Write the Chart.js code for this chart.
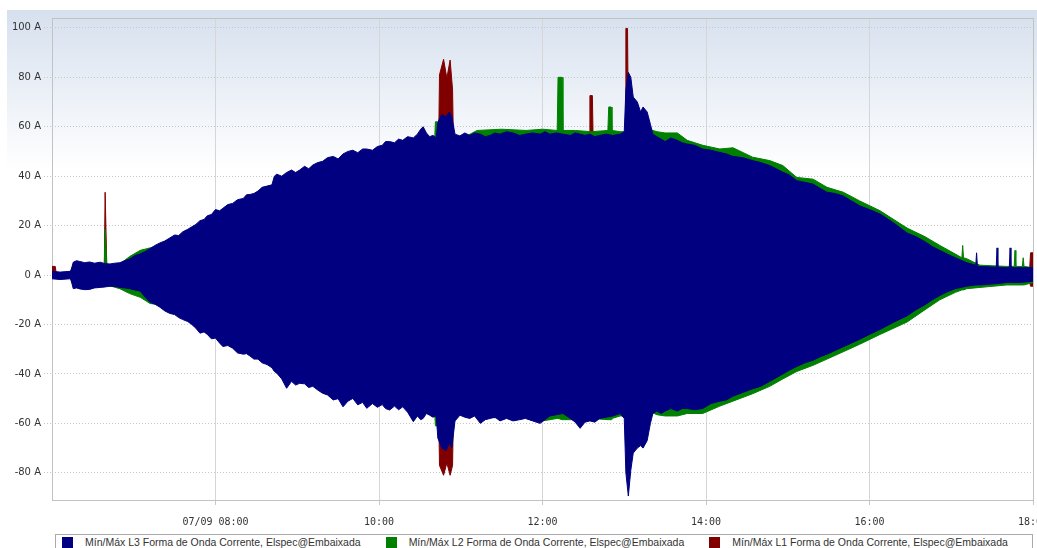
<!DOCTYPE html>
<html>
<head>
<meta charset="utf-8">
<title>Forma de Onda Corrente</title>
<script src="https://cdn.jsdelivr.net/npm/chart.js@4.4.0/dist/chart.umd.min.js"></script>
<style>
  html, body { margin: 0; padding: 0; background: #fff; }
  #wrap { position: relative; width: 1037px; height: 548px; overflow: hidden; }
  #legend {
    position: absolute; left: 55px; top: 534px; width: 978px; height: 30px;
    box-sizing: border-box; border: 1px solid #a9a9a9; background: #fff;
    display: flex; gap: 25px; padding: 1px 0 0 6px;
    font: 10.5px "Liberation Sans", Arial, sans-serif; color: #333;
  }
  #legend .item { display: flex; align-items: center; height: 12px; white-space: nowrap; }
  #legend .swatch { width: 11px; height: 11px; margin-right: 12px; }
</style>
</head>
<body>
<div id="wrap">
  <canvas id="chart" width="1037" height="548"></canvas>
  <div id="legend"></div>
</div>
<script>
// time in hours of 07/09, current in A
const xTicks = [8, 10, 12, 14, 16, 18];
const xTickLabels = ['07/09 08:00', '10:00', '12:00', '14:00', '16:00', '18:00'];
const yTicks = [-80, -60, -40, -20, 0, 20, 40, 60, 80, 100];

const seriesLabels = [
  'Mín/Máx L3 Forma de Onda Corrente, Elspec@Embaixada',
  'Mín/Máx L2 Forma de Onda Corrente, Elspec@Embaixada',
  'Mín/Máx L1 Forma de Onda Corrente, Elspec@Embaixada'
];
const seriesColors = ['#000080', '#008000', '#800000'];

// L3
const l3Time = [
  6.00, 6.10, 6.22, 6.23, 6.26, 6.30, 6.34, 6.40, 6.46, 6.52,
  6.59, 6.65, 6.71, 6.77, 6.83, 6.89, 6.95, 7.01, 7.08, 7.14,
  7.20, 7.26, 7.32, 7.38, 7.44, 7.50, 7.55, 7.60, 7.66, 7.71,
  7.76, 7.81, 7.86, 7.90, 7.95, 8.00, 8.05, 8.09, 8.15, 8.21,
  8.27, 8.34, 8.38, 8.42, 8.47, 8.52, 8.57, 8.63, 8.69, 8.72,
  8.75, 8.81, 8.87, 8.93, 8.98, 9.03, 9.09, 9.14, 9.19, 9.25,
  9.31, 9.37, 9.44, 9.50, 9.56, 9.62, 9.68, 9.74, 9.80, 9.85,
  9.92, 9.98, 10.04, 10.08, 10.13, 10.19, 10.24, 10.29, 10.35, 10.42,
  10.47, 10.51, 10.54, 10.58, 10.62, 10.66, 10.70, 10.72, 10.77, 10.82,
  10.86, 10.89, 10.93, 10.99, 11.05, 11.11, 11.17, 11.24, 11.30, 11.36,
  11.42, 11.48, 11.56, 11.64, 11.72, 11.79, 11.88, 11.97, 12.03, 12.09,
  12.17, 12.25, 12.34, 12.40, 12.46, 12.52, 12.58, 12.64, 12.70, 12.78,
  12.86, 12.95, 13.00, 13.02, 13.05, 13.08, 13.11, 13.16, 13.20, 13.23,
  13.28, 13.32, 13.35, 13.40, 13.45, 13.50, 13.57, 13.65, 13.71, 13.77,
  13.86, 13.96, 14.06, 14.17, 14.25, 14.33, 14.45, 14.57, 14.67, 14.78,
  14.86, 14.94, 15.02, 15.11, 15.21, 15.31, 15.40, 15.48, 15.58, 15.68,
  15.78, 15.88, 16.00, 16.13, 16.30, 16.46, 16.57, 16.68, 16.77, 16.86,
  16.95, 17.05, 17.19, 17.30, 17.31, 17.32, 17.35, 17.55, 17.56, 17.57,
  17.68, 17.71, 17.72, 17.73, 17.84, 18.00
];
const l3Max = [
  1.5, 1.2, 1.5, 1.5, 5.2, 5.8, 5.5, 5.0, 5.3, 4.8,
  5.2, 4.6, 4.5, 4.8, 5.0, 5.8, 6.5, 7.8, 8.6, 9.5,
  10.7, 12.0, 13.0, 13.8, 15.0, 16.2, 16.0, 17.5, 18.5, 19.5,
  20.5, 22.0, 22.5, 24.0, 24.5, 26.5, 26.0, 27.0, 28.5, 29.0,
  30.5, 31.0, 32.5, 32.6, 33.0, 34.0, 35.5, 36.0, 36.5, 40.0,
  40.8, 40.0, 41.5, 42.5, 41.5, 42.5, 44.0, 43.0, 44.5, 45.5,
  46.0, 47.5, 48.0, 47.0, 49.0, 50.0, 50.5, 49.5, 51.0, 51.0,
  50.5, 52.0, 52.5, 54.0, 54.0, 53.5, 55.0, 54.5, 56.0, 55.5,
  57.0, 59.0, 60.0, 57.5, 56.0, 56.5, 55.5, 62.0, 65.0, 64.0,
  66.0, 64.0, 57.0, 56.3, 57.5, 56.5, 57.5, 57.0, 56.0, 56.5,
  57.5, 57.0, 58.0, 57.5, 56.5, 57.0, 57.5, 57.0, 58.0, 57.0,
  57.5, 57.0, 56.5, 57.5, 57.0, 56.5, 57.0, 56.0, 56.5, 57.0,
  56.5, 57.0, 58.0, 75.0, 82.0, 80.0, 72.0, 70.0, 66.0, 68.0,
  66.0, 61.0, 57.0, 56.0, 55.0, 54.0, 55.5, 54.5, 53.5, 53.0,
  52.5, 51.0, 50.5, 49.6, 49.0, 48.0, 47.5, 46.3, 45.5, 44.3,
  43.0, 41.6, 40.5, 38.2, 37.5, 36.8, 35.0, 33.5, 33.0, 32.0,
  30.0, 28.0, 26.5, 24.7, 21.0, 17.0, 15.5, 13.5, 11.5, 10.0,
  8.5, 7.0, 5.0, 4.0, 9.0, 3.5, 3.5, 3.2, 11.0, 3.2,
  3.0, 3.0, 11.0, 3.0, 3.0, 3.0
];
const l3Min = [
  -1.5, -1.8, -1.5, -1.6, -5.5, -5.2, -5.6, -5.9, -5.8, -5.2,
  -5.0, -4.8, -4.5, -4.6, -5.0, -5.2, -5.5, -6.0, -6.5, -9.0,
  -11.0, -11.8, -13.0, -14.5, -15.5, -16.0, -17.2, -18.0, -18.8, -20.0,
  -21.5, -23.5, -23.0, -24.0, -25.8, -25.5, -27.5, -28.9, -28.5, -29.6,
  -31.5, -32.0, -31.8, -32.7, -34.0, -34.0, -35.5, -36.2, -37.5, -39.0,
  -39.7, -42.0, -45.8, -43.0, -44.5, -43.8, -44.0, -45.5, -45.0, -46.5,
  -47.8, -48.5, -50.5, -50.0, -53.3, -51.0, -49.9, -52.5, -51.5, -53.9,
  -52.0, -53.5, -52.4, -54.0, -54.6, -53.0, -54.5, -53.3, -55.5, -59.3,
  -57.0, -58.5, -58.0, -56.0, -56.7, -57.5, -57.0, -66.0, -70.0, -71.0,
  -68.0, -70.0, -59.0, -56.7, -57.5, -58.0, -57.0, -60.0, -58.5, -58.0,
  -57.5, -59.0, -58.0, -59.0, -58.5, -58.0, -59.0, -60.0, -58.5, -57.0,
  -56.5, -56.0, -58.0, -59.5, -62.0, -59.5, -59.0, -59.5, -58.0, -57.5,
  -57.0, -56.0, -58.0, -80.0, -89.4, -79.0, -72.0, -70.0, -69.0, -70.0,
  -67.0, -60.0, -56.0, -55.0, -56.0, -55.0, -54.0, -55.0, -54.0, -54.0,
  -54.5, -54.0, -52.0, -51.0, -50.5, -49.0, -47.5, -46.0, -45.0, -43.0,
  -41.5, -40.0, -38.5, -37.0, -35.5, -34.5, -33.0, -32.0, -30.5, -29.0,
  -27.5, -26.0, -24.0, -22.0, -19.0, -16.5, -14.0, -12.0, -10.0, -8.3,
  -6.8, -5.5, -4.5, -4.0, -4.0, -4.0, -4.0, -3.5, -3.5, -3.5,
  -3.0, -3.0, -3.0, -3.0, -3.0, -2.5
];

// L2
const l2Time = [
  6.00, 6.22, 6.26, 6.64, 6.65, 6.66, 6.67, 6.83, 6.95, 7.08,
  7.20, 7.32, 7.60, 8.00, 9.00, 10.00, 10.50, 10.68, 10.69, 10.71,
  10.73, 11.00, 11.20, 11.50, 11.80, 12.00, 12.18, 12.19, 12.24, 12.25,
  12.40, 12.60, 12.80, 12.81, 12.84, 12.85, 12.95, 13.00, 13.30, 13.40,
  13.50, 13.65, 13.77, 13.96, 14.17, 14.33, 14.57, 14.78, 14.94, 15.11,
  15.31, 15.48, 15.68, 15.88, 16.13, 16.46, 16.68, 16.86, 17.05, 17.13,
  17.14, 17.15, 17.19, 17.35, 17.68, 17.77, 17.78, 17.79, 17.87, 17.88,
  17.89, 18.00
];
const l2Max = [
  1.0, 1.0, 4.0, 4.0, 18.4, 18.4, 4.0, 4.5, 7.5, 10.0,
  11.0, 12.0, 16.0, 24.0, 40.0, 49.0, 55.0, 54.0, 62.0, 62.0,
  55.0, 55.0, 58.5, 59.0, 58.5, 59.0, 58.5, 80.0, 80.0, 58.5,
  58.5, 58.0, 58.5, 68.0, 68.0, 58.5, 58.0, 58.0, 59.0, 58.0,
  57.5, 57.5, 54.5, 52.5, 51.0, 51.5, 47.7, 46.3, 44.3, 39.5,
  38.8, 35.5, 33.5, 30.0, 26.0, 19.0, 15.5, 12.0, 8.5, 7.0,
  12.0, 7.0, 6.6, 4.0, 3.5, 3.5, 10.0, 3.5, 3.5, 7.0,
  3.5, 3.0
];
const l2Min = [
  -1.0, -1.0, -4.0, -4.0, -4.0, -4.0, -4.0, -5.5, -7.5, -9.0,
  -11.5, -12.0, -16.0, -23.0, -40.0, -50.0, -55.0, -55.0, -61.0, -61.0,
  -55.0, -55.0, -57.0, -58.0, -57.0, -59.0, -58.0, -58.0, -58.5, -58.5,
  -58.5, -58.0, -58.5, -58.5, -58.5, -58.0, -57.0, -57.0, -55.0, -56.5,
  -57.0, -57.0, -56.0, -56.0, -53.0, -51.0, -48.0, -45.0, -42.0, -39.0,
  -36.5, -34.0, -31.0, -28.0, -24.0, -19.0, -14.0, -10.0, -7.0, -6.0,
  -6.0, -6.0, -5.5, -5.0, -4.0, -4.0, -4.0, -4.0, -4.0, -4.0,
  -4.0, -3.0
];

// L1
const l1Time = [
  6.00, 6.04, 6.05, 6.22, 6.26, 6.64, 6.65, 6.66, 6.67, 7.00,
  8.00, 9.00, 10.00, 10.50, 10.73, 10.74, 10.79, 10.83, 10.87, 10.90,
  10.91, 12.57, 12.58, 12.61, 12.62, 13.01, 13.02, 13.04, 13.05, 13.50,
  14.00, 15.00, 16.00, 17.00, 17.30, 17.96, 17.97, 18.00
];
const l1Max = [
  3.5, 3.5, 1.0, 1.0, 4.0, 4.0, 33.5, 33.5, 4.0, 5.0,
  22.0, 38.0, 48.0, 53.0, 54.0, 81.0, 87.3, 79.6, 87.0, 75.0,
  54.0, 54.0, 72.6, 72.6, 54.0, 54.0, 99.8, 99.8, 60.0, 50.0,
  48.0, 38.0, 24.0, 6.0, 3.0, 3.0, 9.0, 9.0
];
const l1Min = [
  -1.0, -1.0, -1.0, -1.0, -4.0, -4.0, -4.0, -4.0, -4.0, -5.0,
  -22.0, -38.0, -48.0, -53.0, -55.0, -77.0, -81.0, -76.0, -81.0, -77.0,
  -55.0, -54.0, -54.0, -54.0, -54.0, -54.0, -54.0, -54.0, -54.0, -50.0,
  -48.0, -35.0, -22.0, -5.0, -3.0, -3.0, -4.5, -4.5
];

const toPoints = (times, values) => times.map((t, i) => ({ x: t, y: values[i] }));

const series = [
  { time: l3Time, max: l3Max, min: l3Min },
  { time: l2Time, max: l2Max, min: l2Min },
  { time: l1Time, max: l1Max, min: l1Min }
];

// first dataset is painted last, so L3 sits on top
const datasets = [];
series.forEach((s, i) => {
  datasets.push({
    label: seriesLabels[i],
    data: toPoints(s.time, s.max),
    borderColor: seriesColors[i],
    backgroundColor: seriesColors[i],
    borderWidth: 1,
    pointRadius: 0,
    fill: '+1'
  });
  datasets.push({
    label: seriesLabels[i],
    data: toPoints(s.time, s.min),
    borderColor: seriesColors[i],
    backgroundColor: seriesColors[i],
    borderWidth: 1,
    pointRadius: 0,
    fill: false,
    hideInLegend: true
  });
});

const backdrop = {
  id: 'backdrop',
  beforeDraw(chart) {
    const ctx = chart.ctx;
    ctx.save();
    ctx.fillStyle = '#fff';
    ctx.fillRect(0, 0, chart.width, chart.height);
    const g = ctx.createLinearGradient(0, 10, 0, 170);
    g.addColorStop(0, '#d6e0ee');
    g.addColorStop(1, '#ffffff');
    ctx.fillStyle = g;
    ctx.fillRect(7, 10, chart.width - 7, 160);
    ctx.restore();
  }
};

const plotFrame = {
  id: 'plotFrame',
  beforeDatasetsDraw(chart) {
    const { ctx, chartArea: a } = chart;
    ctx.save();
    ctx.strokeStyle = '#c2c2c2';
    ctx.lineWidth = 1;
    ctx.strokeRect(a.left + 0.5, a.top + 0.5, a.right - a.left, a.bottom - a.top);
    ctx.restore();
  }
};

// legend box under the axis, built from the chart's own legend items
const htmlLegend = {
  id: 'htmlLegend',
  afterUpdate(chart) {
    const box = document.getElementById('legend');
    box.innerHTML = '';
    const items = chart.options.plugins.legend.labels.generateLabels(chart)
      .filter(item => !chart.data.datasets[item.datasetIndex].hideInLegend);
    items.forEach(item => {
      const el = document.createElement('div');
      el.className = 'item';
      const swatch = document.createElement('span');
      swatch.className = 'swatch';
      swatch.style.background = item.fillStyle;
      const text = document.createElement('span');
      text.textContent = item.text;
      el.appendChild(swatch);
      el.appendChild(text);
      box.appendChild(el);
    });
  }
};

new Chart(document.getElementById('chart'), {
  type: 'line',
  data: { datasets: datasets },
  plugins: [backdrop, plotFrame, htmlLegend],
  options: {
    responsive: false,
    animation: false,
    layout: { padding: { left: 12, right: 4, top: 18, bottom: 20 } },
    elements: { line: { tension: 0 } },
    scales: {
      x: {
        type: 'linear',
        min: 6,
        max: 18,
        afterBuildTicks: (scale) => { scale.ticks = xTicks.map(v => ({ value: v })); },
        afterFit: (scale) => { scale.height = 28; scale.paddingLeft = 0; scale.paddingRight = 0; },
        ticks: {
          autoSkip: false,
          maxRotation: 0,
          padding: 11,
          color: '#333',
          font: { family: 'DejaVu Sans Mono', size: 10 },
          callback: (v) => xTickLabels[xTicks.indexOf(v)]
        },
        grid: { color: '#d6d6d6', tickLength: 5, tickColor: '#c8c8c8' },
        border: { display: false }
      },
      y: {
        min: -91,
        max: 104,
        afterBuildTicks: (scale) => { scale.ticks = yTicks.map(v => ({ value: v })); },
        afterFit: (scale) => { scale.width = 40; },
        ticks: {
          padding: 3,
          color: '#333',
          font: { family: 'DejaVu Sans', size: 10 },
          callback: (v) => v + ' A'
        },
        grid: { color: '#c6c6c6', tickLength: 8, tickColor: '#c6c6c6', tickBorderDash: [1, 2] },
        border: { display: false, dash: [1, 2] }
      }
    },
    plugins: {
      tooltip: { enabled: false },
      legend: { display: false }
    }
  }
});
</script>
</body>
</html>
